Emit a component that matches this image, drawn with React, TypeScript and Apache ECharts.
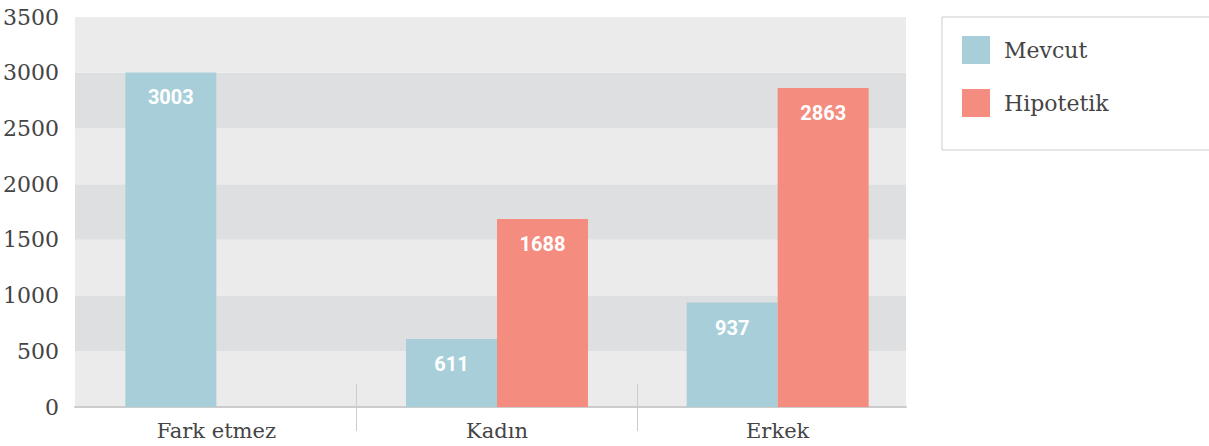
import React, { useEffect, useRef } from "react";
import * as echarts from "echarts";

const categories = ["Fark etmez", "Kadın", "Erkek"];
const mevcut = [3003, 611, 937];
const hipotetik: (number | string)[] = ["-", 1688, 2863];
const seriesNames = ["Mevcut", "Hipotetik"];
const yMax = 3500;
const yStep = 500;

const SERIF = "'DejaVu Serif', serif";

export default function App() {
  const ref = useRef<HTMLDivElement>(null);
  useEffect(() => {
    document.body.style.margin = "0";
    const chart = echarts.init(ref.current!, null, { renderer: "svg" });
    const barLabel = {
      show: true,
      position: "insideTop",
      distance: 15,
      color: "#ffffff",
      fontFamily: "Roboto, sans-serif",
      fontWeight: "bold",
      fontSize: 20,
    };
    chart.setOption({
      animation: false,
      backgroundColor: "#ffffff",
      grid: [
        { left: 73, right: 303, top: 17, bottom: 39 },
        { left: 76, right: 291, top: 17, bottom: 39 },
        { left: 76, right: 291, top: 384, bottom: 15 },
      ],
      legend: {
        orient: "vertical",
        left: 942,
        top: 17,
        padding: [19, 160, 33, 20],
        itemWidth: 28,
        itemHeight: 28,
        itemGap: 25,
        icon: "rect",
        borderColor: "#cccccc",
        borderWidth: 1,
        data: seriesNames,
        textStyle: {
          fontFamily: SERIF,
          fontSize: 22,
          color: "#444444",
          padding: [8, 0, 0, 9],
        },
      },
      xAxis: [
        {
          gridIndex: 0,
          type: "category",
          data: categories,
          axisLine: { show: true, lineStyle: { color: "#cccccc", width: 2 } },
          axisTick: { show: false },
          axisLabel: { show: false },
          splitLine: { show: false },
        },
        {
          gridIndex: 1,
          type: "category",
          data: categories,
          axisLine: { show: false },
          axisTick: { show: false },
          axisLabel: {
            show: true,
            margin: 13,
            fontFamily: SERIF,
            fontSize: 21,
            color: "#444444",
          },
          splitLine: { show: false },
        },
        {
          gridIndex: 2,
          type: "category",
          data: categories,
          axisLine: { show: false },
          axisTick: { show: false },
          axisLabel: { show: false },
          splitLine: {
            show: true,
            interval: 0,
            showMinLine: false,
            showMaxLine: false,
            lineStyle: { color: "#cccccc", width: 1 },
          },
        },
      ],
      yAxis: [
        {
          gridIndex: 0,
          type: "value",
          min: 0,
          max: yMax,
          interval: yStep,
          axisLine: { show: false },
          axisTick: { show: false },
          splitLine: { show: false },
          splitArea: { show: true, areaStyle: { color: ["#ebebeb", "#dedfe0"] } },
          axisLabel: {
            margin: 16,
            fontFamily: SERIF,
            fontSize: 22,
            color: "#444444",
            formatter: (v: number) => String(v),
          },
        },
        { gridIndex: 1, type: "value", min: 0, max: yMax, show: false },
        { gridIndex: 2, type: "value", min: 0, max: 1, show: false },
      ],
      series: [
        {
          name: seriesNames[0],
          type: "bar",
          xAxisIndex: 1,
          yAxisIndex: 1,
          data: mevcut,
          barWidth: 91,
          barGap: "0%",
          itemStyle: { color: "#a8cfd9" },
          label: barLabel,
        },
        {
          name: seriesNames[1],
          type: "bar",
          xAxisIndex: 1,
          yAxisIndex: 1,
          data: hipotetik,
          barWidth: 91,
          barGap: "0%",
          itemStyle: { color: "#f48d7f" },
          label: barLabel,
        },
      ],
    });
    return () => chart.dispose();
  }, []);
  return <div ref={ref} style={{ width: 1209, height: 446 }} />;
}
